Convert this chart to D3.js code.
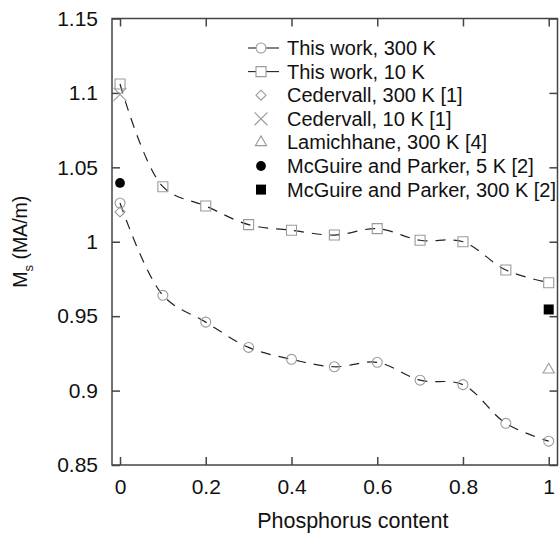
<!DOCTYPE html>
<html>
<head>
<meta charset="utf-8">
<script src="https://cdn.jsdelivr.net/npm/d3@7"></script>
<style>
  body { margin: 0; background: #fff; }
  text { font-family: "Liberation Sans", Arial, sans-serif; fill: #111; }
</style>
</head>
<body>
<svg id="canvas" width="559" height="535"></svg>
<script>
'use strict';

/* data */
const phosphorus = [0, 0.1, 0.2, 0.3, 0.4, 0.5, 0.6, 0.7, 0.8, 0.9, 1.0];
const work300K = [1.026, 0.964, 0.946, 0.929, 0.921, 0.916, 0.919, 0.907, 0.904, 0.878, 0.866];
const work10K = [1.106, 1.037, 1.024, 1.0115, 1.0077, 1.0045, 1.0088, 1.001, 1.000, 0.981, 0.9725];
const cedervall300K = [{x: 0, y: 1.020}];
const cedervall10K = [{x: 0, y: 1.099}];
const lamichhane300K = [{x: 1, y: 0.914}];
const mcguire5K = [{x: 0, y: 1.0395}];
const mcguire300K = [{x: 1, y: 0.9545}];

const xTicks = [0, 0.2, 0.4, 0.6, 0.8, 1];
const yTicks = [0.85, 0.9, 0.95, 1, 1.05, 1.1, 1.15];

const legendLabels = [
  'This work, 300 K',
  'This work, 10 K',
  'Cedervall, 300 K [1]',
  'Cedervall, 10 K [1]',
  'Lamichhane, 300 K [4]',
  'McGuire and Parker, 5 K [2]',
  'McGuire and Parker, 300 K [2]'
];

/* layout */
const frame = {left: 112, right: 557.5, top: 18.5, bottom: 465};
const grey = '#9a9a9a';
const axisColor = '#444';

const svg = d3.select('svg#canvas');

const x = d3.scaleLinear().domain([-0.0187, 1.0205]).range([frame.left, frame.right]);
const y = d3.scaleLinear().domain([0.85, 1.15]).range([frame.bottom, frame.top]);

/* a square diamond (d3's own diamond is elongated) */
const squareDiamond = {
  draw: function(context, size){
    const r = Math.sqrt(size / 2);
    context.moveTo(0, -r);
    context.lineTo(r, 0);
    context.lineTo(0, r);
    context.lineTo(-r, 0);
    context.closePath();
  }
};

/* marker drawing helpers */
const sym = {
  circle: d3.symbol().type(d3.symbolCircle).size(78),
  square: d3.symbol().type(d3.symbolSquare).size(100),
  diamond: d3.symbol().type(squareDiamond).size(50),
  cross: d3.symbol().type(d3.symbolX).size(110),
  triangle: d3.symbol().type(d3.symbolTriangle).size(55),
  fcircle: d3.symbol().type(d3.symbolCircle).size(75),
  fsquare: d3.symbol().type(d3.symbolSquare).size(100)
};
const styles = {
  circle: {fill: 'none', stroke: grey},
  square: {fill: 'none', stroke: grey},
  diamond: {fill: 'none', stroke: grey},
  cross: {fill: 'none', stroke: grey},
  triangle: {fill: 'none', stroke: grey},
  fcircle: {fill: '#000', stroke: 'none'},
  fsquare: {fill: '#000', stroke: 'none'}
};

function drawMarkers(g, pts, kind){
  g.selectAll(null)
    .data(pts)
    .enter().append('path')
      .attr('transform', function(d){ return 'translate(' + x(d.x) + ',' + y(d.y) + ')'; })
      .attr('d', sym[kind])
      .style('fill', styles[kind].fill)
      .style('stroke', styles[kind].stroke)
      .style('stroke-width', 1.1)
  ;
}

/* axes */
const axes = svg.append('g').attr('id', 'axes');
axes.append('g')
  .attr('transform', 'translate(0,' + frame.bottom + ')')
  .call(d3.axisBottom(x).tickValues(xTicks).tickSizeInner(-8).tickSizeOuter(0).tickPadding(14)
    .tickFormat(d3.format('')));
axes.append('g')
  .attr('transform', 'translate(0,' + frame.top + ')')
  .call(d3.axisTop(x).tickValues(xTicks).tickSizeInner(-8).tickSizeOuter(0).tickFormat(''));
axes.append('g')
  .attr('transform', 'translate(' + frame.left + ',0)')
  .call(d3.axisLeft(y).tickValues(yTicks).tickSizeInner(-8).tickSizeOuter(0).tickPadding(14)
    .tickFormat(d3.format('')));
axes.append('g')
  .attr('transform', 'translate(' + frame.right + ',0)')
  .call(d3.axisRight(y).tickValues(yTicks).tickSizeInner(-8).tickSizeOuter(0).tickFormat(''));

axes.selectAll('.domain').remove();
axes.selectAll('.tick line').style('stroke', axisColor).style('stroke-width', 1.5);
axes.selectAll('.tick text')
  .style('font-size', '21px')
  .style('fill', '#111');

/* frame */
axes.append('rect')
  .attr('x', frame.left)
  .attr('y', frame.top)
  .attr('width', frame.right - frame.left)
  .attr('height', frame.bottom - frame.top)
  .style('fill', 'none')
  .style('stroke', axisColor)
  .style('stroke-width', 1.5);

/* axis titles */
svg.append('text')
  .attr('x', (frame.left + frame.right) / 2 + 18)
  .attr('y', 528)
  .attr('text-anchor', 'middle')
  .style('font-size', '21.5px')
  .text('Phosphorus content');

const ylab = svg.append('text')
  .attr('transform', 'translate(27,' + ((frame.top + frame.bottom) / 2) + ') rotate(-90)')
  .attr('text-anchor', 'middle')
  .style('font-size', '19.5px');
ylab.append('tspan').text('M');
ylab.append('tspan').attr('dy', 6).style('font-size', '13px').text('s');
ylab.append('tspan').attr('dy', -6).text(' (MA/m)');

/* dashed connecting curves */
const plot = svg.append('g').attr('id', 'graph');
const line = d3.line()
  .x(function(d){ return x(d.x); })
  .y(function(d){ return y(d.y); })
  .curve(d3.curveCatmullRom.alpha(0.5));

const s300 = phosphorus.map(function(p, i){ return {x: p, y: work300K[i]}; });
const s10 = phosphorus.map(function(p, i){ return {x: p, y: work10K[i]}; });

[s300, s10].forEach(function(s){
  plot.append('path')
    .datum(s)
    .attr('d', line)
    .style('fill', 'none')
    .style('stroke', '#222')
    .style('stroke-width', 1.2)
    .style('stroke-dasharray', '10,8');
});

drawMarkers(plot, s300, 'circle');
drawMarkers(plot, s10, 'square');
drawMarkers(plot, cedervall300K, 'diamond');
drawMarkers(plot, cedervall10K, 'cross');
drawMarkers(plot, lamichhane300K, 'triangle');
drawMarkers(plot, mcguire5K, 'fcircle');
drawMarkers(plot, mcguire300K, 'fsquare');

/* legend */
const kinds = ['circle', 'square', 'diamond', 'cross', 'triangle', 'fcircle', 'fsquare'];
const legend = svg.append('g').attr('id', 'legend');
const rows = legend.selectAll('g')
  .data(legendLabels)
  .enter().append('g')
    .attr('transform', function(d, i){ return 'translate(261,' + (48 + i * 23.6) + ')'; });

rows.filter(function(d, i){ return i < 2; })
  .append('line')
    .attr('x1', -13).attr('x2', 18)
    .attr('y1', 0).attr('y2', 0)
    .style('stroke', '#222')
    .style('stroke-width', 1.1);

rows.append('path')
  .attr('d', function(d, i){ return sym[kinds[i]](); })
  .style('fill', function(d, i){ return styles[kinds[i]].fill === 'none' ? '#fff' : styles[kinds[i]].fill; })
  .style('stroke', function(d, i){ return styles[kinds[i]].stroke; })
  .style('stroke-width', 1.1);

rows.append('text')
  .attr('x', 26)
  .attr('y', 7)
  .style('font-size', '20px')
  .text(function(d){ return d; });
</script>
</body>
</html>
